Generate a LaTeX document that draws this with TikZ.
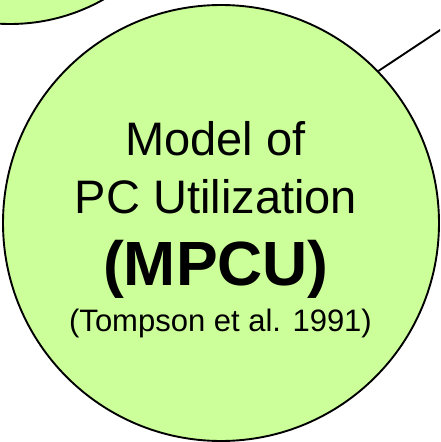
\documentclass[tikz,border=0pt]{standalone}
\usepackage{fontspec}
\setmainfont{Liberation Sans}
\definecolor{bubble}{HTML}{CCFF99}
\begin{document}
\begin{tikzpicture}[x=1pt,y=-1pt,
  bubblestyle/.style={circle,draw=black,fill=bubble,line width=1.9pt,inner sep=0pt},
  linkstyle/.style={draw=black,line width=1.9pt},
  txt/.style={anchor=base,inner sep=0pt,text=black}]
\useasboundingbox (0,0) rectangle (440,442);
\clip (0,0) rectangle (440,442);
\node[bubblestyle,minimum size=380pt] (prev) at (10,-166) {};
\node[bubblestyle,minimum size=436pt] (mpcu) at (221,223) {};
\coordinate (far) at (502,-11);
\draw[linkstyle] (mpcu.44.4) -- (far);
\node[txt,font=\fontsize{47}{50}\selectfont] (l1) at (215.5,155) {Model of};
\node[txt,font=\fontsize{47}{50}\selectfont] (l2) at (216,213) {PC Utilization};
\node[txt,font=\fontsize{62.5}{66}\selectfont\bfseries] (l3) at (216,285) {(MPCU)};
\node[txt,font=\fontsize{31}{34}\selectfont] (l4) at (220.5,331) {(Tompson et al. 1991)};
\end{tikzpicture}
\end{document}
